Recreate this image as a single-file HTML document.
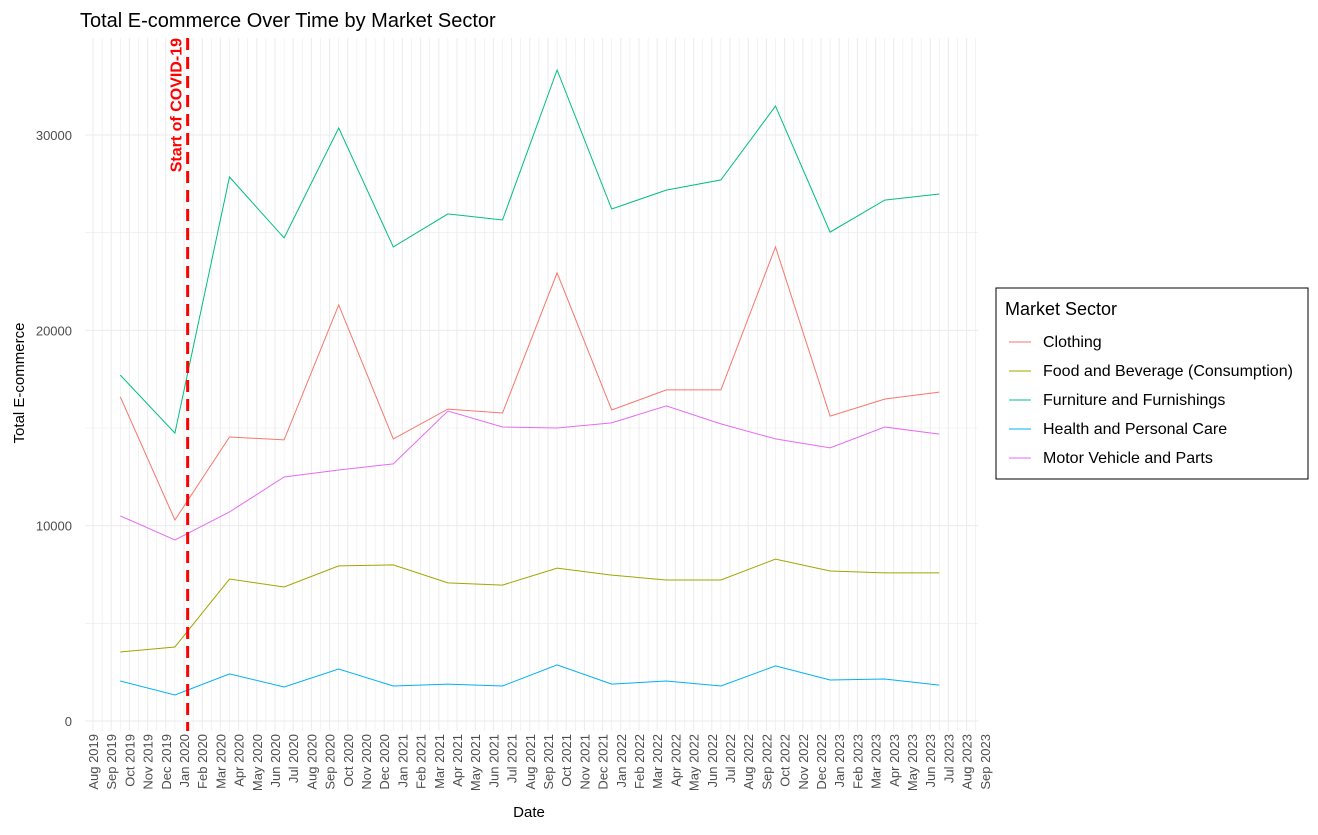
<!DOCTYPE html>
<html><head><meta charset="utf-8"><style>
body{margin:0;background:#fff;font-family:"Liberation Sans",sans-serif}
</style></head><body>
<svg id="chart" width="1318" height="830" xmlns="http://www.w3.org/2000/svg" font-family="Liberation Sans, sans-serif">
<text x="80" y="27" font-size="20" fill="#000">Total E-commerce Over Time by Market Sector</text>
<g id="grid"></g><g id="axes"></g><g id="series"></g>
<text transform="translate(24,383) rotate(-90)" text-anchor="middle" font-size="15">Total E-commerce</text>
<text x="529" y="817" text-anchor="middle" font-size="15">Date</text>
<g id="legend">
<rect x="996" y="288" width="312" height="191" fill="#fff" stroke="#000" stroke-width="1"/>
<text x="1005" y="315" font-size="18">Market Sector</text>
</g>
</svg>
<script>
const months=["Aug 2019","Sep 2019","Oct 2019","Nov 2019","Dec 2019","Jan 2020","Feb 2020","Mar 2020","Apr 2020","May 2020","Jun 2020","Jul 2020","Aug 2020","Sep 2020","Oct 2020","Nov 2020","Dec 2020","Jan 2021","Feb 2021","Mar 2021","Apr 2021","May 2021","Jun 2021","Jul 2021","Aug 2021","Sep 2021","Oct 2021","Nov 2021","Dec 2021","Jan 2022","Feb 2022","Mar 2022","Apr 2022","May 2022","Jun 2022","Jul 2022","Aug 2022","Sep 2022","Oct 2022","Nov 2022","Dec 2022","Jan 2023","Feb 2023","Mar 2023","Apr 2023","May 2023","Jun 2023","Jul 2023","Aug 2023","Sep 2023"];
const yTicks=[0,10000,20000,30000];
const seriesNames=["Clothing","Food and Beverage (Consumption)","Furniture and Furnishings","Health and Personal Care","Motor Vehicle and Parts"];
const seriesColors=["#F8766D","#A3A500","#00BF7D","#00B0F6","#E76BF3"];
const clothing=[16590,10290,14540,14390,21300,14440,15970,15770,22940,15920,16950,16950,24270,15610,16480,16840];
const food=[3530,3790,7270,6860,7940,7990,7070,6960,7830,7470,7220,7220,8290,7680,7580,7580];
const furniture=[17710,14740,27850,24730,30360,24270,25960,25650,33330,26210,27180,27700,31480,25030,26670,26980];
const health=[2050,1330,2410,1740,2660,1790,1890,1790,2870,1890,2050,1790,2820,2100,2150,1840];
const motor=[10500,9270,10700,12490,12850,13160,15870,15050,15000,15260,16130,15210,14440,13980,15050,14690];
const dataStartMonth=1.5, dataStepMonths=3, covidMonth=5.2;
const NS="http://www.w3.org/2000/svg";
const X=m=>93+18.2*m, Y=v=>721-v*0.019533;
function mk(t,a,p){const e=document.createElementNS(NS,t);for(const k in a)e.setAttribute(k,a[k]);p.appendChild(e);return e;}
const grid=document.getElementById('grid'),axes=document.getElementById('axes'),ser=document.getElementById('series');
const L=85,R=978,T=38,B=731;
for(let m=-0.5;m<=months.length;m+=0.5){const x=X(m);if(x<L||x>R)continue;
 const g=mk('line',{x1:x,x2:x,y1:T,y2:B,stroke:'#ebebeb','stroke-width':Number.isInteger(m)?1:0.6},grid);
 }
for(let v=0;v<=35000;v+=5000){const y=Y(v);if(y<T)continue;
 const g=mk('line',{x1:L,x2:R,y1:y,y2:y,stroke:'#ebebeb','stroke-width':v%10000===0?1:0.6},grid);
 }
yTicks.forEach(v=>{const t=mk('text',{x:72,y:Y(v)+5,'text-anchor':'end','font-size':13,fill:'#4d4d4d'},axes);t.textContent=v;
 });
months.forEach((s,i)=>{const x=X(i)+5;const t=mk('text',{transform:`translate(${x},734) rotate(-90)`,'text-anchor':'end','font-size':13,fill:'#4d4d4d'},axes);t.textContent=s;
 });
const all=[clothing,food,furniture,health,motor];
all.forEach((arr,si)=>{const pts=arr.map((v,i)=>X(dataStartMonth+i*dataStepMonths).toFixed(1)+','+Y(v).toFixed(1)).join(' ');
 const p=mk('polyline',{points:pts,fill:'none',stroke:seriesColors[si],'stroke-width':1},ser);
 
 });
const cx=X(covidMonth);
const d=mk('line',{x1:cx,x2:cx,y1:T,y2:B,stroke:'#ff0000','stroke-width':3,'stroke-dasharray':'12 7'},ser);

const ct=mk('text',{transform:`translate(${cx-6},${T}) rotate(-90)`,'text-anchor':'end','font-size':16,'font-weight':'bold',fill:'#ff0000'},ser);
ct.textContent='Start of COVID-19';

const lg=document.getElementById('legend');
seriesNames.forEach((n,i)=>{const y=342+i*29;
 const l=mk('line',{x1:1009,x2:1031,y1:y,y2:y,stroke:seriesColors[i],'stroke-width':1},lg);
 
 const t=mk('text',{x:1043,y:y+5,'font-size':16},lg);t.textContent=n;
 });
</script>
</body></html>
